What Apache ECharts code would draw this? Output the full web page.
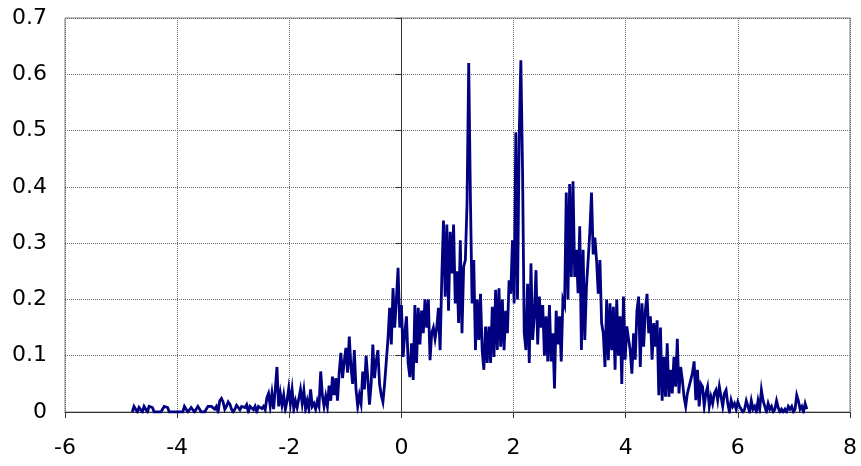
<!DOCTYPE html>
<html>
<head>
<meta charset="utf-8">
<script src="https://cdn.jsdelivr.net/npm/echarts@6/dist/echarts.min.js"></script>
<style>
html,body{margin:0;padding:0;background:#fff;}
#chart{width:861px;height:466px;}
</style>
</head>
<body>
<div id="chart"></div>
<script>
// x sampling of the trace (start and spacing, in axis units)
const xStart = -4.8;
const xStep = 0.03;
// trace values, one per sample
const yValues = [
0,0.01,0.01,0,0.008,0.01,0,0.01,0.01,0,
0.01,0.01,0.008,0,0,0,0,0,0,0.01,
0.01,0.008,0,0,0,0,0,0,0,0,
0,0.01,0.01,0,0,0.008,0.01,0,0,0.01,
0.01,0,0,0,0,0.01,0.013,0.01,0.012,0.005,
0.01,0,0.02,0.024,0.018,0.005,0.01,0.018,0.014,0.005,
0,0.005,0.012,0.015,0.004,0.01,0.013,0.008,0.013,0,
0.01,0.012,0.004,0.01,0,0.01,0.013,0.006,0.01,0.004,
0.025,0.033,0.01,0.033,0.005,0.04,0.08,0.01,0.033,0.012,
0.03,0.005,0.02,0.042,0.015,0.04,0.005,0.02,0.008,0.01,
0.04,0.015,0.038,0.005,0.02,0.005,0.04,0.01,0.015,0.005,
0.02,0.01,0.072,0.03,0.01,0.028,0.01,0.047,0.02,0.063,
0.03,0.06,0.02,0.07,0.105,0.06,0.09,0.114,0.07,0.134,
0.08,0.05,0.11,0.04,0.01,0.03,0.015,0.072,0.04,0.1,
0.06,0.013,0.05,0.12,0.06,0.09,0.11,0.05,0.03,0.018,
0.05,0.09,0.13,0.185,0.12,0.22,0.15,0.2,0.256,0.15,
0.19,0.098,0.14,0.17,0.087,0.062,0.122,0.057,0.19,0.087,
0.185,0.12,0.18,0.14,0.2,0.15,0.2,0.092,0.14,0.15,
0.13,0.15,0.185,0.11,0.24,0.34,0.205,0.333,0.18,0.32,
0.246,0.333,0.193,0.25,0.158,0.305,0.14,0.258,0.27,0.37,
0.62,0.383,0.193,0.27,0.11,0.2,0.128,0.21,0.11,0.075,
0.152,0.087,0.152,0.087,0.187,0.098,0.217,0.11,0.22,0.116,
0.2,0.11,0.18,0.14,0.234,0.21,0.305,0.193,0.497,0.2,
0.488,0.625,0.43,0.14,0.11,0.228,0.087,0.264,0.128,0.17,
0.252,0.12,0.205,0.15,0.19,0.1,0.17,0.09,0.19,0.09,
0.14,0.042,0.18,0.12,0.17,0.09,0.2,0.19,0.39,0.2,
0.405,0.24,0.41,0.24,0.288,0.211,0.33,0.11,0.288,0.128,
0.223,0.27,0.32,0.39,0.28,0.31,0.27,0.21,0.27,0.158,
0.14,0.08,0.2,0.092,0.193,0.11,0.187,0.075,0.2,0.1,
0.17,0.05,0.205,0.093,0.152,0.13,0.11,0.068,0.14,0.093,
0.18,0.205,0.08,0.193,0.116,0.18,0.21,0.14,0.17,0.093,
0.158,0.116,0.163,0.03,0.15,0.02,0.098,0.027,0.122,0.027,
0.075,0.033,0.098,0.045,0.13,0.033,0.08,0.057,0.027,0.01,
0.033,0.045,0.057,0.069,0.09,0.021,0.075,0.01,0.05,0.045,
0.01,0.033,0.045,0.01,0.027,0.015,0.033,0.039,0.021,0.045,
0.048,0.01,0.033,0.039,0.015,0,0.021,0.01,0.015,0.005,
0.018,0.01,0.01,0,0.005,0.02,0.01,0,0.02,0.005,
0.01,0,0.02,0.005,0.039,0.02,0.01,0,0.015,0.005,
0.01,0,0.005,0.02,0.008,0,0.005,0,0.005,0,
0.01,0.005,0.01,0,0.005,0.03,0.02,0.005,0.01,0,
0.015,0.005
];
// axis ticks
const xTicks = [-6, -4, -2, 0, 2, 4, 6, 8];
const yTicks = [0, 0.1, 0.2, 0.3, 0.4, 0.5, 0.6, 0.7];

const seriesData = yValues.map((v, i) => [+(xStart + i * xStep).toFixed(3), v]);

const chart = echarts.init(document.getElementById('chart'), null, {renderer: 'canvas'});
chart.setOption({
  animation: false,
  backgroundColor: '#fff',
  grid: {left: 65, right: 11, top: 18, bottom: 54, show: true, borderColor: '#808080', borderWidth: 1, backgroundColor: 'transparent'},
  xAxis: {
    type: 'value',
    min: xTicks[0], max: xTicks[xTicks.length - 1], interval: 2,
    axisLine: {show: true, onZero: false, lineStyle: {color: '#333', width: 1}},
    axisTick: {show: true, inside: false, length: 6, lineStyle: {color: '#333'}},
    axisLabel: {margin: 25, fontFamily: 'DejaVu Sans', fontSize: 22, color: '#000'},
    splitLine: {show: true, lineStyle: {color: '#6a6a6a', type: [1, 1], width: 1}}
  },
  yAxis: {
    type: 'value',
    min: yTicks[0], max: yTicks[yTicks.length - 1], interval: 0.1,
    axisLine: {show: true, lineStyle: {color: '#333', width: 1}},
    axisTick: {show: true, inside: false, length: 6, lineStyle: {color: '#333'}},
    axisLabel: {margin: 18, fontFamily: 'DejaVu Sans', fontSize: 22, color: '#000', formatter: v => String(+v.toFixed(1))},
    splitLine: {show: true, lineStyle: {color: '#6a6a6a', type: [1, 1], width: 1}}
  },
  series: [{
    type: 'line',
    data: seriesData,
    showSymbol: false,
    symbol: 'none',
    lineStyle: {color: '#000080', width: 2.8, join: 'miter'},
    itemStyle: {color: '#000080'}
  }]
});
</script>
</body>
</html>
